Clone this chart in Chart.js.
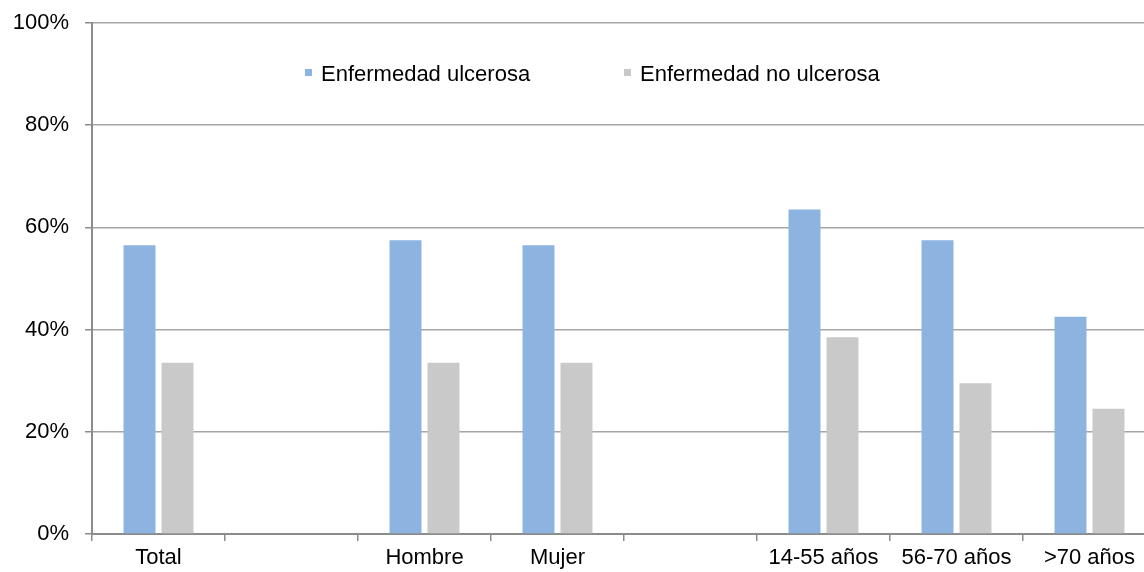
<!DOCTYPE html>
<html lang="es">
<head>
<meta charset="utf-8">
<title>Enfermedad ulcerosa por grupo</title>
<script src="https://cdn.jsdelivr.net/npm/chart.js@4/dist/chart.umd.min.js"></script>
<style>
    html, body { margin: 0; padding: 0; background: #fff; overflow: hidden; }
    #wrap { width: 1160px; height: 572px; }
</style>
</head>
<body>
<div id="wrap"><canvas id="ulceraChart" width="1160" height="572"></canvas></div>
<script>
// Categorias (las vacias separan los grupos)
var categorias = ['Total', '', 'Hombre', 'Mujer', '', '14-55 años', '56-70 años', '>70 años'];
var ulcerosa   = [56.5, null, 57.5, 56.5, null, 63.5, 57.5, 42.5];
var noUlcerosa = [33.5, null, 33.5, 33.5, null, 38.5, 29.5, 24.5];
var ticksY     = [0, 20, 40, 60, 80, 100];

var fuente = 'Liberation Sans, Arial, sans-serif';

// Leyenda dibujada dentro del area del grafico, en una sola fila
var leyendaInterior = {
    id: 'leyendaInterior',
    afterDraw: function(chart) {
        var ctx = chart.ctx;
        var posiciones = [305, 624];
        ctx.save();
        ctx.font = '22px ' + fuente;
        ctx.textBaseline = 'middle';
        chart.data.datasets.forEach(function(ds, i) {
            var x = posiciones[i];
            ctx.fillStyle = ds.backgroundColor;
            ctx.fillRect(x, 69, 7, 7);
            ctx.fillStyle = '#000';
            ctx.fillText(ds.label, x + 16, 75);
        });
        ctx.restore();
    }
};

new Chart(document.getElementById('ulceraChart'), {
    type: 'bar',
    data: {
        labels: categorias,
        datasets: [
            {
                label: 'Enfermedad ulcerosa',
                data: ulcerosa,
                backgroundColor: '#8db3e0',
                categoryPercentage: 0.571,
                barPercentage: 0.842
            },
            {
                label: 'Enfermedad no ulcerosa',
                data: noUlcerosa,
                backgroundColor: '#c9c9c9',
                categoryPercentage: 0.571,
                barPercentage: 0.842
            }
        ]
    },
    options: {
        responsive: false,
        animation: false,
        layout: {
            padding: { top: 23, right: 4, left: 0, bottom: 0 }
        },
        scales: {
            x: {
                afterFit: function(scale) { scale.height = 38; },
                grid: {
                    offset: true,
                    drawOnChartArea: false,
                    tickLength: 7,
                    tickColor: '#8c8c8c',
                    lineWidth: 1.5
                },
                border: { color: '#8c8c8c', width: 2 },
                ticks: {
                    color: '#000',
                    padding: 4,
                    autoSkip: false,
                    maxRotation: 0,
                    font: { family: fuente, size: 22 }
                }
            },
            y: {
                min: 0,
                max: 100,
                afterFit: function(scale) {
                    scale.width = 92;
                    scale.paddingTop = 0;
                    scale.paddingBottom = 0;
                },
                afterBuildTicks: function(scale) {
                    scale.ticks = ticksY.map(function(v) { return { value: v }; });
                },
                grid: {
                    color: '#a6a6a6',
                    lineWidth: 1.5,
                    tickLength: 7,
                    tickColor: '#8c8c8c'
                },
                border: { color: '#8c8c8c', width: 2 },
                ticks: {
                    color: '#000',
                    padding: 16,
                    font: { family: fuente, size: 22 },
                    callback: function(v) { return v + '%'; }
                }
            }
        },
        plugins: {
            legend: { display: false },
            tooltip: { enabled: false }
        }
    },
    plugins: [leyendaInterior]
});
</script>
</body>
</html>
